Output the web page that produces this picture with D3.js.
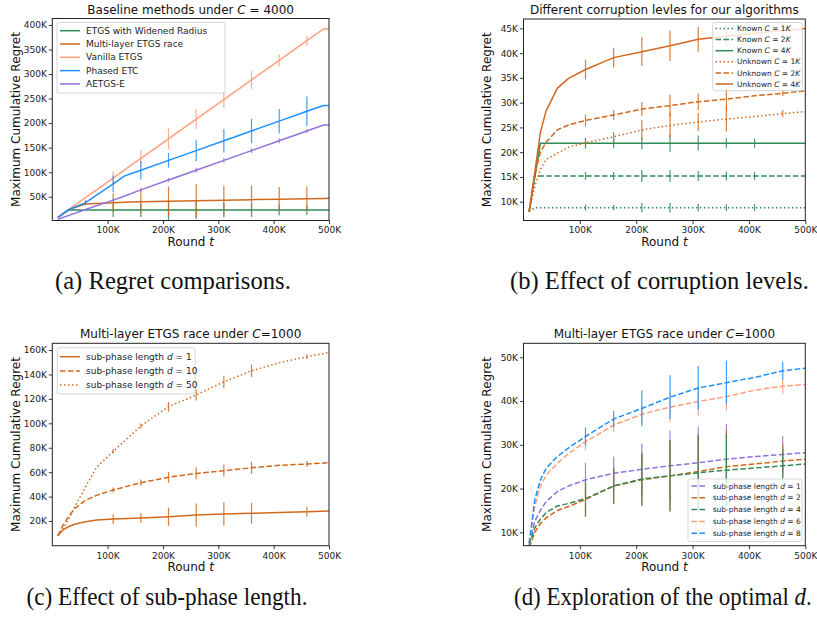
<!DOCTYPE html>
<html>
<head>
<meta charset="utf-8">
<script src="https://cdn.jsdelivr.net/npm/d3@7"></script>
<style>
  body { margin: 0; background: #fff; }
  svg { display: block; font-family: "DejaVu Sans", sans-serif; }
</style>
</head>
<body>
<svg id="fig" width="817" height="619"></svg>
<script>
// all values in thousands (rounds t and regret)

// (a) baseline methods, C = 4000
var roundsA = [10, 30, 60, 110, 130, 160, 210, 260, 310, 360, 410, 460, 490, 500];
var widenedA = [8, 22.8, 22.8, 22.8, 22.8, 22.8, 22.8, 22.8, 22.8, 22.8, 22.8, 22.8, 22.8, 22.8];
var multiLayerA = [8, 24, 35, 37.8, 38.5, 39.5, 40.8, 41.9, 43, 44, 44.9, 45.8, 46.4, 46.6];
var vanillaA = [8, 24, 48, 88, 104, 128, 168, 208, 248, 288, 328, 368, 392, 392];
var phasedA = [8, 24, 38, 76, 92, 104, 124, 144, 164, 184, 204, 224, 236, 236];
var aetgsA = [4, 12, 24, 43, 51, 64, 84, 104, 124, 144, 164, 184, 196, 196];
var barRoundsA = [60, 110, 160, 210, 260, 310, 360, 410, 460];
var widenedErrA = [0, 14, 14, 20, 19, 15, 14, 11, 10];
var multiLayerErrA = [0, 19, 25, 30, 34, 30, 29, 25, 25];
var vanillaErrA = [0, 14, 17, 22, 20, 17, 18, 12, 10];
var phasedErrA = [5.5, 17, 19, 15, 21, 24, 25, 25, 30];
var aetgsErrA = [0, 4, 4, 4, 5, 5, 5, 5, 4];

// (b) corruption levels
var roundsB = [10, 20, 30, 40, 60, 80, 110, 160, 210, 260, 310, 360, 410, 460, 500];
var known1B = [8, 8.8, 8.8, 8.8, 8.8, 8.8, 8.8, 8.8, 8.8, 8.8, 8.8, 8.8, 8.8, 8.8, 8.8];
var known2B = [8, 15.2, 15.2, 15.2, 15.2, 15.2, 15.2, 15.2, 15.2, 15.2, 15.2, 15.2, 15.2, 15.2, 15.2];
var known4B = [8, 14.9, 21.8, 21.8, 21.8, 21.8, 21.8, 21.8, 21.8, 21.8, 21.8, 21.8, 21.8, 21.8, 21.8];
var unknown1B = [8, 13, 16.5, 18.5, 19.8, 21, 21.9, 23.1, 24.5, 25.4, 26.1, 26.7, 27.2, 27.8, 28.2];
var unknown2B = [8, 15.5, 20, 22, 24.5, 25.5, 26.4, 27.5, 28.7, 29.4, 30.2, 30.7, 31.4, 31.9, 32.4];
var unknown4B = [8, 16, 24, 28.3, 32.9, 34.9, 36.7, 39.1, 40.3, 41.5, 42.8, 43.4, 44, 44.6, 45];
var barRoundsB = [110, 160, 210, 260, 310, 360, 410, 460];
var known1ErrB = [0.6, 0.6, 1.0, 1.0, 0.8, 0.7, 0.7, 0];
var known2ErrB = [0.8, 0.8, 1.2, 1.2, 1.0, 0.9, 0.8, 0];
var known4ErrB = [1.1, 1.0, 1.2, 1.7, 1.5, 1.0, 0.9, 0];
var unknown1ErrB = [0.7, 1.0, 2.0, 2.5, 1.8, 2.5, 0, 0.7];
var unknown2ErrB = [1.2, 1.0, 1.4, 2.2, 1.7, 2.5, 0, 0.6];
var unknown4ErrB = [2.0, 2.0, 2.9, 3.1, 2.5, 2.0, 0, 1.5];

// (c) sub-phase length, C = 1000
var roundsC = [10, 20, 30, 40, 60, 80, 110, 160, 210, 260, 310, 360, 410, 460, 500];
var d1C = [8, 13, 15.5, 17.3, 19.4, 20.8, 21.6, 22.5, 23.5, 24.9, 25.7, 26.3, 27, 27.6, 28.2];
var d10C = [8, 17, 24, 30, 37, 41, 45.4, 51.4, 55.8, 59, 61.2, 63.6, 65.6, 66.7, 67.7];
var d50C = [8, 14, 22, 31, 48, 64, 77, 97.8, 113.6, 123.2, 134, 143, 149.6, 154.5, 158];
var barRoundsC = [110, 160, 210, 260, 310, 360, 460];
var d1ErrC = [4, 4, 7.5, 9.5, 9.5, 8.5, 4];
var d10ErrC = [2, 2.5, 4.5, 5, 5, 5, 2.5];
var d50ErrC = [2, 2, 4, 4.5, 5, 5, 2];

// (d) optimal d, C = 1000
var roundsD = [10, 20, 30, 40, 60, 80, 110, 160, 210, 260, 310, 360, 410, 460, 500];
var d1D = [7.5, 12.5, 15, 17, 19.3, 20.6, 22, 23.5, 24.4, 25.2, 25.9, 26.7, 27.3, 27.8, 28.2];
var d2D = [6.5, 10, 12, 13.3, 15, 15.9, 17.5, 20.6, 22, 22.9, 23.9, 25, 25.6, 26.3, 26.7];
var d4D = [7, 11, 13, 14.5, 16, 16.6, 17.7, 20.6, 22.2, 22.9, 23.6, 24.2, 24.7, 25.2, 25.6];
var d6D = [7.5, 16, 20.5, 23, 25.8, 28, 30.7, 34.5, 37, 38.6, 39.9, 41, 42.5, 43.4, 43.8];
var d8D = [7.5, 17.4, 22, 24.6, 27.3, 29.3, 31.9, 35.9, 38.3, 40.9, 43, 44.2, 45.4, 46.9, 47.5];
var barRoundsD = [110, 160, 210, 260, 310, 360, 460];
var d1ErrD = [3.9, 3.8, 5.9, 8, 8.2, 8.1, 4.2];
var d2ErrD = [4, 4, 6, 8, 8.5, 8.3, 3.8];
var d4ErrD = [4, 4.2, 6, 8.2, 8.5, 8.3, 3.8];
var d6ErrD = [1.9, 1.5, 2, 3.4, 3.4, 3.2, 1.7];
var d8ErrD = [2.1, 1.9, 4.1, 5, 5, 5, 2];

var xTicks = [100, 200, 300, 400, 500];

var GREEN = "#2e8b57", ORANGE = "#d2691e", SALMON = "#ffa07a", BLUE = "#1e90ff", PURPLE = "#9370db";
var SOLID = null, DASHED = "5.55,2.4", DOTTED = "1.5,2.5";

var svg = d3.select("#fig");

function addParts(sel, parts) {
    parts.forEach(function (p) {
        sel.append("tspan").text(p[0]).style("font-style", p[1] ? "italic" : null);
    });
    return sel;
}

function panel(cfg) {
    var b = cfg.box; // [left, right, top, bottom]
    var x = d3.scaleLinear().domain([0, 500]).range([b[0], b[1]]);
    var y = d3.scaleLinear().domain(cfg.yDomain).range([b[3], b[2]]);
    var g = svg.append("g");

    svg.append("clipPath").attr("id", "clip-" + cfg.name)
      .append("rect").attr("x", b[0]).attr("y", b[2])
      .attr("width", b[1] - b[0]).attr("height", b[3] - b[2]);

    var plot = g.append("g").attr("clip-path", "url(#clip-" + cfg.name + ")");

    var line = d3.line()
      .x(function (d, i) { return x(cfg.rounds[i]); })
      .y(function (d) { return y(d); });

    cfg.series.forEach(function (s) {
        var sg = plot.append("g");
        sg.append("path").datum(s.values)
          .attr("d", line)
          .attr("fill", "none")
          .attr("stroke", s.color)
          .attr("stroke-width", 1.5)
          .attr("stroke-dasharray", s.dash);

        var bars = cfg.barRounds.map(function (r, i) {
            return {r: r, v: s.values[cfg.rounds.indexOf(r)], e: s.err[i]};
        }).filter(function (d) { return d.e > 0; });

        sg.selectAll("line.bar").data(bars).enter().append("line")
          .attr("class", "bar")
          .attr("x1", function (d) { return x(d.r); })
          .attr("x2", function (d) { return x(d.r); })
          .attr("y1", function (d) { return y(d.v - d.e); })
          .attr("y2", function (d) { return y(d.v + d.e); })
          .attr("stroke", s.color)
          .attr("stroke-width", 1.2)
          .attr("opacity", 0.85);
    });

    // axes
    var xAxis = g.append("g").attr("transform", "translate(0," + b[3] + ")")
      .call(d3.axisBottom(x).tickValues(xTicks).tickSize(3.5).tickPadding(3)
        .tickFormat(function (d) { return d + "K"; }));
    var yAxis = g.append("g").attr("transform", "translate(" + b[0] + ",0)")
      .call(d3.axisLeft(y).tickValues(cfg.yTicks).tickSize(3.5).tickPadding(2)
        .tickFormat(function (d) { return d + "K"; }));
    [xAxis, yAxis].forEach(function (a) {
        a.select(".domain").remove();
        a.selectAll("line").attr("stroke", "#222").attr("stroke-width", 0.9);
        a.selectAll("text").attr("fill", "#222").style("font-size", "9px")
          .style("font-family", '"DejaVu Sans", sans-serif');
    });

    g.append("rect")
      .attr("x", b[0]).attr("y", b[2])
      .attr("width", b[1] - b[0]).attr("height", b[3] - b[2])
      .attr("fill", "none").attr("stroke", "#222").attr("stroke-width", 1);

    // labels
    addParts(g.append("text")
      .attr("x", (b[0] + b[1]) / 2).attr("y", b[2] - 5)
      .attr("text-anchor", "middle").style("font-size", "12px").attr("fill", "#111"), cfg.title);

    addParts(g.append("text")
      .attr("x", (b[0] + b[1]) / 2).attr("y", b[3] + 25.5)
      .attr("text-anchor", "middle").style("font-size", "12px").attr("fill", "#111"),
      [["Round ", false], ["t", true]]);

    g.append("text")
      .attr("transform", "translate(" + (b[0] - 32.5) + "," + ((b[2] + b[3]) / 2) + ") rotate(-90)")
      .attr("text-anchor", "middle").style("font-size", "12px").attr("fill", "#111")
      .text("Maximum Cumulative Regret");

    // legend
    var L = cfg.legend;
    var lg = g.append("g");
    lg.append("rect")
      .attr("x", L.x).attr("y", L.y).attr("width", L.w).attr("height", L.h)
      .attr("rx", 2).attr("fill", "#fff").attr("fill-opacity", 0.8)
      .attr("stroke", "#ccc").attr("stroke-width", 0.8);
    cfg.series.forEach(function (s, i) {
        var ry = L.row0 + i * L.step;
        lg.append("line")
          .attr("x1", L.lx0).attr("x2", L.lx1).attr("y1", ry).attr("y2", ry)
          .attr("stroke", s.color).attr("stroke-width", 1.5)
          .attr("stroke-dasharray", s.dash);
        addParts(lg.append("text")
          .attr("x", L.tx).attr("y", ry).attr("dy", "0.35em")
          .style("font-size", L.font + "px").attr("fill", "#222"), s.label);
    });
}

panel({
    name: "a",
    box: [52.3, 329, 18.5, 220.5],
    yDomain: [1.5, 413.2],
    yTicks: [50, 100, 150, 200, 250, 300, 350, 400],
    rounds: roundsA,
    barRounds: barRoundsA,
    title: [["Baseline methods under ", false], ["C", true], [" = 4000", false]],
    series: [
        {values: widenedA, err: widenedErrA, color: GREEN, dash: SOLID, label: [["ETGS with Widened Radius", false]]},
        {values: multiLayerA, err: multiLayerErrA, color: ORANGE, dash: SOLID, label: [["Multi-layer ETGS race", false]]},
        {values: vanillaA, err: vanillaErrA, color: SALMON, dash: SOLID, label: [["Vanilla ETGS", false]]},
        {values: phasedA, err: phasedErrA, color: BLUE, dash: SOLID, label: [["Phased ETC", false]]},
        {values: aetgsA, err: aetgsErrA, color: PURPLE, dash: SOLID, label: [["AETGS-E", false]]}
    ],
    legend: {x: 57, y: 22.5, w: 168, h: 70.5, row0: 30.7, step: 13.3, lx0: 60, lx1: 80, tx: 86, font: 9}
});

panel({
    name: "b",
    box: [523.5, 805.3, 19, 220.5],
    yDomain: [6.2, 46.9],
    yTicks: [10, 15, 20, 25, 30, 35, 40, 45],
    rounds: roundsB,
    barRounds: barRoundsB,
    title: [["Different corruption levles for our algorithms", false]],
    series: [
        {values: known1B, err: known1ErrB, color: GREEN, dash: DOTTED, label: [["Known ", false], ["C", true], [" = 1", false], ["K", true]]},
        {values: known2B, err: known2ErrB, color: GREEN, dash: DASHED, label: [["Known ", false], ["C", true], [" = 2", false], ["K", true]]},
        {values: known4B, err: known4ErrB, color: GREEN, dash: SOLID, label: [["Known ", false], ["C", true], [" = 4", false], ["K", true]]},
        {values: unknown1B, err: unknown1ErrB, color: ORANGE, dash: DOTTED, label: [["Unknown ", false], ["C", true], [" = 1", false], ["K", true]]},
        {values: unknown2B, err: unknown2ErrB, color: ORANGE, dash: DASHED, label: [["Unknown ", false], ["C", true], [" = 2", false], ["K", true]]},
        {values: unknown4B, err: unknown4ErrB, color: ORANGE, dash: SOLID, label: [["Unknown ", false], ["C", true], [" = 4", false], ["K", true]]}
    ],
    legend: {x: 712.7, y: 22.5, w: 89.6, h: 68.2, row0: 28.5, step: 11.1, lx0: 715.5, lx1: 733, tx: 737, font: 7.5}
});

panel({
    name: "c",
    box: [52.3, 329, 343.3, 545.7],
    yDomain: [-0.2, 165.5],
    yTicks: [20, 40, 60, 80, 100, 120, 140, 160],
    rounds: roundsC,
    barRounds: barRoundsC,
    title: [["Multi-layer ETGS race under ", false], ["C", true], ["=1000", false]],
    series: [
        {values: d1C, err: d1ErrC, color: ORANGE, dash: SOLID, label: [["sub-phase length ", false], ["d", true], [" = 1", false]]},
        {values: d10C, err: d10ErrC, color: ORANGE, dash: DASHED, label: [["sub-phase length ", false], ["d", true], [" = 10", false]]},
        {values: d50C, err: d50ErrC, color: ORANGE, dash: DOTTED, label: [["sub-phase length ", false], ["d", true], [" = 50", false]]}
    ],
    legend: {x: 57.3, y: 347.7, w: 137.7, h: 46.3, row0: 356.7, step: 14.2, lx0: 60, lx1: 80, tx: 86, font: 9}
});

panel({
    name: "d",
    box: [523.5, 805.3, 343.3, 545.7],
    yDomain: [6.94, 53.2],
    yTicks: [10, 20, 30, 40, 50],
    rounds: roundsD,
    barRounds: barRoundsD,
    title: [["Multi-layer ETGS race under ", false], ["C", true], ["=1000", false]],
    series: [
        {values: d1D, err: d1ErrD, color: PURPLE, dash: DASHED, label: [["sub-phase length ", false], ["d", true], [" = 1", false]]},
        {values: d2D, err: d2ErrD, color: ORANGE, dash: DASHED, label: [["sub-phase length ", false], ["d", true], [" = 2", false]]},
        {values: d4D, err: d4ErrD, color: GREEN, dash: DASHED, label: [["sub-phase length ", false], ["d", true], [" = 4", false]]},
        {values: d6D, err: d6ErrD, color: SALMON, dash: DASHED, label: [["sub-phase length ", false], ["d", true], [" = 6", false]]},
        {values: d8D, err: d8ErrD, color: BLUE, dash: DASHED, label: [["sub-phase length ", false], ["d", true], [" = 8", false]]}
    ],
    legend: {x: 688, y: 479, w: 114, h: 62.5, row0: 486, step: 11.8, lx0: 691.5, lx1: 705, tx: 712.7, font: 7.5}
});

// sub-figure captions: tall serif, squeezed sideways to the measured width
var captions = [
    {x: 55, y: 289, w: 236, parts: [["(a) Regret comparisons.", false]]},
    {x: 510, y: 289, w: 299, parts: [["(b) Effect of corruption levels.", false]]},
    {x: 26.5, y: 605, w: 281, parts: [["(c) Effect of sub-phase length.", false]]},
    {x: 514, y: 605, w: 298, parts: [["(d) Exploration of the optimal ", false], ["d", true], [".", false]]}
];
captions.forEach(function (c) {
    var t = addParts(svg.append("text")
      .style("font-family", '"Liberation Serif", "Times New Roman", serif')
      .style("font-size", "25px").attr("fill", "#111"), c.parts);
    var natural = t.node().getComputedTextLength();
    t.attr("transform", "translate(" + c.x + "," + c.y + ") scale(" + (c.w / natural) + ",1)");
});
</script>
</body>
</html>
